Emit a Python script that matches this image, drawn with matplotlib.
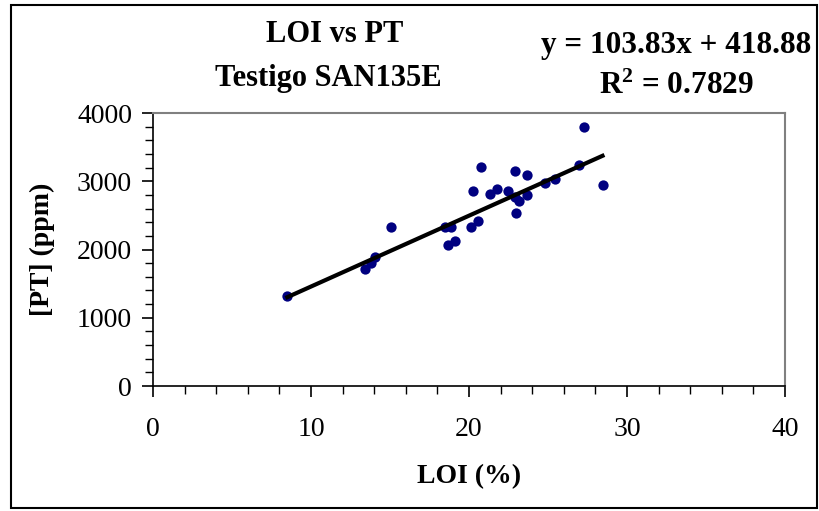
import matplotlib
matplotlib.use("Agg")
import matplotlib.pyplot as plt
from matplotlib.ticker import MultipleLocator
from matplotlib.patches import Rectangle
import numpy as np

loi = [8.5, 13.4, 13.8, 14.05, 15.05, 18.45, 18.85, 18.7, 19.1, 20.1, 20.6,
       20.25, 20.75, 21.35, 21.75, 22.5, 22.9, 23.65, 22.9, 23.15, 23.65,
       23.0, 24.8, 25.45, 26.95, 27.3, 28.45]
pt = [1320, 1710, 1805, 1895, 2330, 2330, 2330, 2060, 2125, 2330, 2415,
      2855, 3205, 2820, 2885, 2860, 3150, 3090, 2775, 2710, 2800,
      2530, 2970, 3030, 3235, 3790, 2945]
slope, intercept = 103.83, 418.88
r2 = 0.7829

plt.rcParams['font.family'] = ['Liberation Serif', 'DejaVu Serif']
plt.rcParams['mathtext.fontset'] = 'custom'
plt.rcParams['mathtext.rm'] = 'Liberation Serif'
plt.rcParams['mathtext.bf'] = 'Liberation Serif:bold'

fig = plt.figure(figsize=(8.2, 5.11), dpi=100)
ax = fig.add_axes([153/820, 1-386/511, (785-153)/820, (386-113)/511])

ax.scatter(loi, pt, s=55, color='#000080', zorder=3, linewidths=0)
xs = np.array([min(loi), max(loi)])
ax.plot(xs, slope*xs + intercept, color='black', lw=3, zorder=4)

ax.set_xlim(0, 40)
ax.set_ylim(0, 4000)
ax.xaxis.set_major_locator(MultipleLocator(10))
ax.xaxis.set_minor_locator(MultipleLocator(2))
ax.yaxis.set_major_locator(MultipleLocator(1000))
ax.yaxis.set_minor_locator(MultipleLocator(200))
ax.tick_params(which='major', direction='out', length=8, width=1.2, labelsize=20, pad=7, colors='black')
ax.tick_params(which='minor', direction='out', length=6, width=1.0)
ax.tick_params(axis='x', pad=14)
for s in ['top', 'right']:
    ax.spines[s].set_color('#808080')
    ax.spines[s].set_linewidth(1.5)
for s in ['left', 'bottom']:
    ax.spines[s].set_color('black')
    ax.spines[s].set_linewidth(1.2)

ax.set_xlabel('LOI (%)', fontsize=20, fontweight='bold', labelpad=16)
ax.set_ylabel('[PT] (ppm)', fontsize=20, fontweight='bold', labelpad=16)

fig.text(335/820, 1-42/511, 'LOI vs PT', fontsize=22, fontweight='bold', ha='center', va='baseline')
fig.text(328/820, 1-86/511, 'Testigo SAN135E', fontsize=22, fontweight='bold', ha='center', va='baseline')
fig.text(676/820, 1-53/511, 'y = 103.83x + 418.88', fontsize=22.5, fontweight='bold', ha='center', va='baseline')
fig.text(676/820, 1-94/511, r'$\mathbf{R^{2}}$ = 0.7829', fontsize=22.5, fontweight='bold', ha='center', va='baseline')

fig.patches.append(Rectangle((11/820, 3/511), 806/820, 503/511, transform=fig.transFigure,
                             fill=False, edgecolor='black', lw=1.5))

fig.savefig('out.png', dpi=100)
